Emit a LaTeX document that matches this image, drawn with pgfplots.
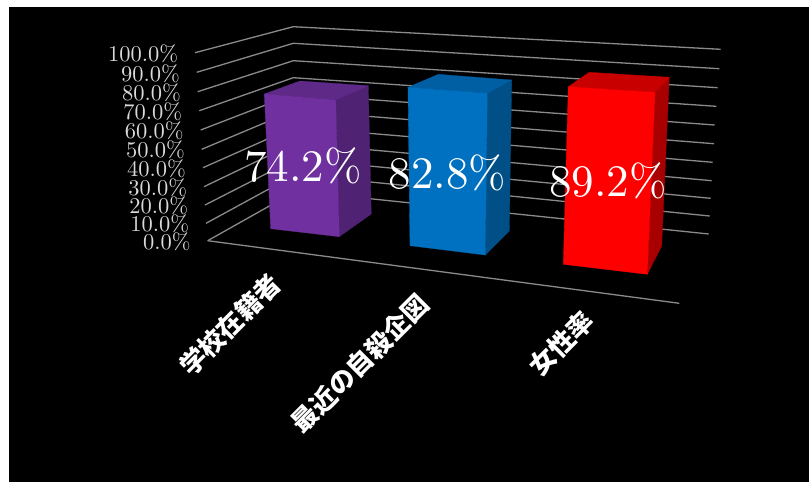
\documentclass[border=0pt]{standalone}
\usepackage{fontspec}
\usepackage{pgfplots}
\pgfplotsset{compat=1.18}
\newfontfamily\cjk{Noto Sans CJK JP}
\newfontfamily\lab{lmroman10-regular.otf}

% picture is drawn in the reference's pixel space (1 unit = 1 px, y downwards),
% because the 3D look has perspective that no pgfplots view can give
\definecolor{gridc}{HTML}{8A8A8A}
\definecolor{ticktxt}{HTML}{D9D9D9}
\definecolor{purF}{HTML}{7030A0}
\definecolor{purT}{HTML}{5F2988}
\definecolor{purS}{HTML}{4F2274}
\definecolor{bluF}{HTML}{0070C0}
\definecolor{bluT}{HTML}{005FA3}
\definecolor{bluS}{HTML}{004F86}
\definecolor{redF}{HTML}{FF0000}
\definecolor{redT}{HTML}{C80000}
\definecolor{redS}{HTML}{A80000}

\tikzset{
    gridln/.style={color=gridc, line width=1.3pt},
    face/.style={fill=#1, draw=#1, line width=0.3pt},
    ticktx/.style={anchor=east, text=ticktxt, inner sep=0pt, font=\lab\fontsize{22.5}{22.5}\selectfont},
    valtx/.style={text=white, inner sep=0pt, font=\lab\fontsize{45}{45}\selectfont},
    cattx/.style={text=white, inner sep=0pt, rotate=45, font=\cjk\bfseries\fontsize{26}{26}\selectfont},
}

\begin{document}
\begin{tikzpicture}
\begin{axis}[
    scale only axis,
    width=809pt,
    height=482pt,
    xmin=0, xmax=809,
    ymin=0, ymax=482,
    y dir=reverse,
    hide axis,
    clip=true,
]

% background
\addplot[fill=white, draw=none] coordinates {(0,0) (809,0) (809,482) (0,482)} --cycle;
\addplot[fill=black, draw=none] coordinates {(9,6.5) (809,6.5) (809,482) (9,482)} --cycle;

% gridlines, 100% down to 0%
\addplot[gridln] coordinates {(195,52.7) (293.3,26.7) (720.7,49.3)};
\addplot[gridln] coordinates {(196.7,72.3) (293.3,43.3) (719.3,68.7)};
\addplot[gridln] coordinates {(197.7,91.7) (293.3,60.7) (717.7,87.7)};
\addplot[gridln] coordinates {(199.3,110.7) (293.3,77.7) (716.3,106.3)};
\addplot[gridln] coordinates {(200.7,130) (294,94) (714.7,125)};
\addplot[gridln] coordinates {(201.7,149.3) (294,110.5) (714,143.7)};
\addplot[gridln] coordinates {(203,167.7) (294.5,127) (712.7,162.3)};
\addplot[gridln] coordinates {(204,186.7) (295,143) (711.7,180.7)};
\addplot[gridln] coordinates {(205,205) (295,159) (710.7,198.3)};
\addplot[gridln] coordinates {(206,223.3) (295.5,174.5) (709.7,216)};
\addplot[gridln] coordinates {(207.7,240.7) (296,191) (708.7,234)};
\addplot[gridln] coordinates {(207.7,240.7) (679.3,303.3)};

% 74.2% bar
\addplot[face=purS] coordinates {(335.7,100) (368.3,85.7) (371.3,214) (339.3,236.7)} --cycle;
\addplot[face=purT] coordinates {(264.3,94) (300,81) (368.3,85.7) (335.7,100)} --cycle;
\addplot[face=purF] coordinates {(264.3,94) (335.7,100) (339.3,236.7) (270.7,228.7)} --cycle;

% 82.8% bar
\addplot[face=bluS] coordinates {(487.3,93.3) (511.7,80) (509.3,231) (485.3,255)} --cycle;
\addplot[face=bluT] coordinates {(408,87.3) (438.3,74.3) (511.7,80) (487.3,93.3)} --cycle;
\addplot[face=bluF] coordinates {(408,87.3) (487.3,93.3) (485.3,255) (410,245.7)} --cycle;

% 89.2% bar
\addplot[face=redS] coordinates {(655,92.3) (669.3,77.3) (661.7,246) (647.3,274.3)} --cycle;
\addplot[face=redT] coordinates {(568.3,86.7) (589.3,72.3) (669.3,77.3) (655,92.3)} --cycle;
\addplot[face=redF] coordinates {(568.3,86.7) (655,92.3) (647.3,274.3) (563.3,264.3)} --cycle;

% tick labels
\node[ticktx] at (axis cs:178.3,53.7) {100.0\%};
\node[ticktx] at (axis cs:180,73.3) {90.0\%};
\node[ticktx] at (axis cs:181,92.7) {80.0\%};
\node[ticktx] at (axis cs:182.3,111.7) {70.0\%};
\node[ticktx] at (axis cs:183.7,130.7) {60.0\%};
\node[ticktx] at (axis cs:185,150) {50.0\%};
\node[ticktx] at (axis cs:186,169) {40.0\%};
\node[ticktx] at (axis cs:187.3,187.7) {30.0\%};
\node[ticktx] at (axis cs:188.3,205.7) {20.0\%};
\node[ticktx] at (axis cs:189.3,224) {10.0\%};
\node[ticktx] at (axis cs:190.7,241.7) {0.0\%};

% data labels
\node[valtx] at (axis cs:303,166) {74.2\%};
\node[valtx] at (axis cs:447.5,172.5) {82.8\%};
\node[valtx] at (axis cs:608,180.5) {89.2\%};

% category labels
\node[cattx] at (axis cs:230,325) {学校在籍者};
\node[cattx] at (axis cs:360,363.3) {最近の自殺企図};
\node[cattx] at (axis cs:561.5,343.3) {女性率};

\end{axis}
\end{tikzpicture}
\end{document}
